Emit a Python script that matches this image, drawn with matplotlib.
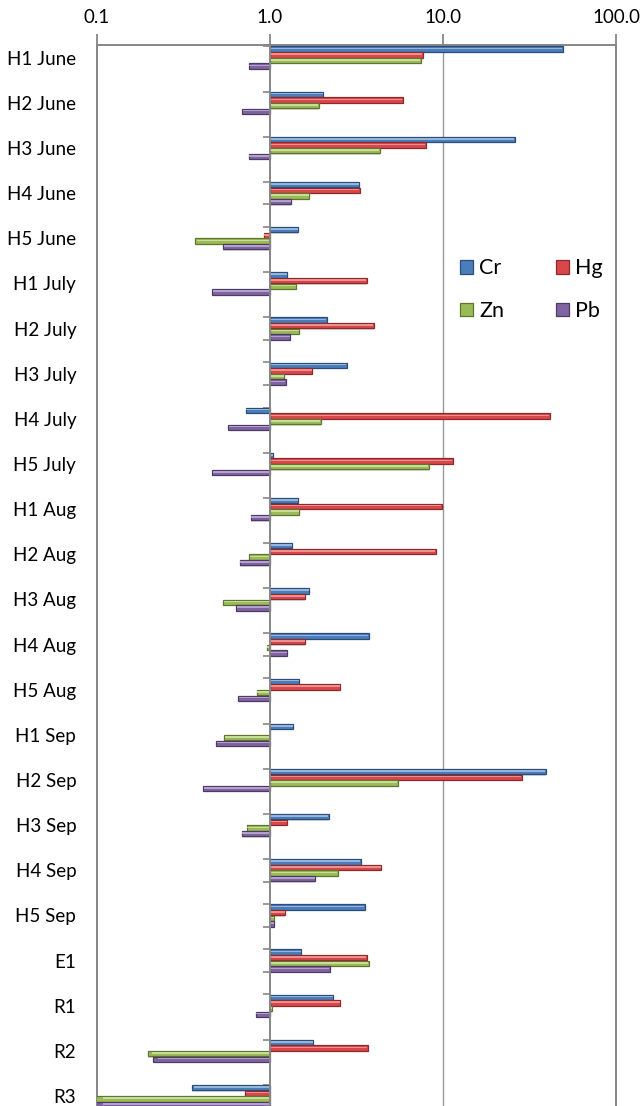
import numpy as np
import matplotlib
matplotlib.use("Agg")
import matplotlib.pyplot as plt
from matplotlib.ticker import FixedLocator, NullLocator, FixedFormatter

# datos
categorias = ["H1 June", "H2 June", "H3 June", "H4 June", "H5 June",
              "H1 July", "H2 July", "H3 July", "H4 July", "H5 July",
              "H1 Aug", "H2 Aug", "H3 Aug", "H4 Aug", "H5 Aug",
              "H1 Sep", "H2 Sep", "H3 Sep", "H4 Sep", "H5 Sep",
              "E1", "R1", "R2", "R3"]
cr = [49.3, 2.03, 26.0, 3.29, 1.46, 1.26, 2.13, 2.78, 0.726, 1.04,
      1.46, 1.34, 1.69, 3.72, 1.48, 1.36, 39.4, 2.18, 3.35, 3.52,
      1.51, 2.32, 1.78, 0.352]
hg = [7.65, 5.85, 7.94, 3.31, 0.92, 3.65, 3.97, 1.76, 41.6, 11.4,
      9.86, 9.06, 1.60, 1.60, 2.55, 1.0, 28.7, 1.25, 4.41, 1.22,
      3.62, 2.55, 3.70, 0.72]
zn = [7.43, 1.91, 4.30, 1.69, 0.37, 1.42, 1.48, 1.21, 1.96, 8.32,
      1.48, 0.761, 0.532, 0.96, 0.844, 0.54, 5.47, 0.733, 2.46, 1.05,
      3.75, 1.03, 0.197, 0.095]
pb = [0.757, 0.69, 0.757, 1.32, 0.537, 0.462, 1.31, 1.23, 0.574, 0.462,
      0.776, 0.667, 0.636, 1.25, 0.655, 0.489, 0.409, 0.686, 1.83, 1.05,
      2.22, 0.825, 0.212, 0.095]
series = ["Cr", "Hg", "Zn", "Pb"]
xticks = [0.1, 1.0, 10.0, 100.0]
xlabels = ["0.1", "1.0", "10.0", "100.0"]

colores = ["#4a7ebb", "#d9474a", "#9bbb59", "#8064a2"]
bordes = ["#2c4d75", "#8c2a2c", "#5f7530", "#4d3b62"]
brillo = ["#a8c4e6", "#f2a3a4", "#d4e6a6", "#c3b1db"]

plt.rcParams["font.family"] = ["Lato", "DejaVu Sans"]

fig = plt.figure(figsize=(6.44, 11.06), dpi=100)
ax = fig.add_axes([97/644, 0.0, (616-97)/644, 1 - 45/1106])

y = np.arange(len(categorias))
alto = 0.125
valores = [cr, hg, zn, pb]
for i, vals in enumerate(valores):
    vals = np.array(vals)
    yy = y + (i - 1.5) * alto
    # sombra
    ax.barh(yy + alto * 0.25, vals - 1.0, left=1.0, height=alto * 0.9,
            color="#d8d8d8", linewidth=0, zorder=2)
    ax.barh(yy, vals - 1.0, left=1.0, height=alto * 0.95,
            color=colores[i], edgecolor=bordes[i], linewidth=0.9,
            label=series[i], zorder=3)
    # brillo superior
    ax.barh(yy - alto * 0.12, (vals - 1.0) * 0.985, left=1.0, height=alto * 0.28,
            color=brillo[i], linewidth=0, zorder=4, alpha=0.8)

ax.set_xscale("log")
ax.set_xlim(0.1, 100)
ax.set_ylim(len(categorias) - 1 + 0.22, -0.28)

ax.xaxis.set_major_locator(FixedLocator(xticks))
ax.xaxis.set_major_formatter(FixedFormatter(xlabels))
ax.xaxis.set_minor_locator(NullLocator())
ax.xaxis.tick_top()
ax.tick_params(axis="x", which="major", length=8, width=1.3, color="#868686",
               labelsize=13.5, pad=6)

ax.set_yticks(y)
ax.set_yticklabels(categorias)
ax.tick_params(axis="y", length=0, labelsize=13.5, pad=15)

for lado in ["left", "right", "top"]:
    ax.spines[lado].set_color("#868686")
    ax.spines[lado].set_linewidth(1.4)
ax.spines["bottom"].set_visible(False)

ax.axvline(10.0, color="#9a9a9a", linewidth=1.0, zorder=1)
ax.axvline(1.0, color="#868686", linewidth=1.4, zorder=5)

# marcas del eje de categorias en 1.0
sec = ax.secondary_yaxis(1/3)
sec.set_yticks(np.concatenate([y - 0.25, y + 0.25]))
sec.tick_params(axis="y", left=True, right=False, labelleft=False, labelright=False,
                length=5, width=1.2, color="#868686", direction="out")
sec.spines["left"].set_visible(False)
sec.spines["right"].set_visible(False)

handles, labels = ax.get_legend_handles_labels()
orden = [0, 2, 1, 3]
leg = fig.legend([handles[k] for k in orden], [labels[k] for k in orden],
                 loc="center", bbox_to_anchor=(0.825, 0.738), ncol=2, frameon=False,
                 fontsize=15.5, handlelength=0.6, handleheight=0.6,
                 handletextpad=0.3, columnspacing=2.4, labelspacing=1.05)

fig.savefig("out.png", dpi=100)
